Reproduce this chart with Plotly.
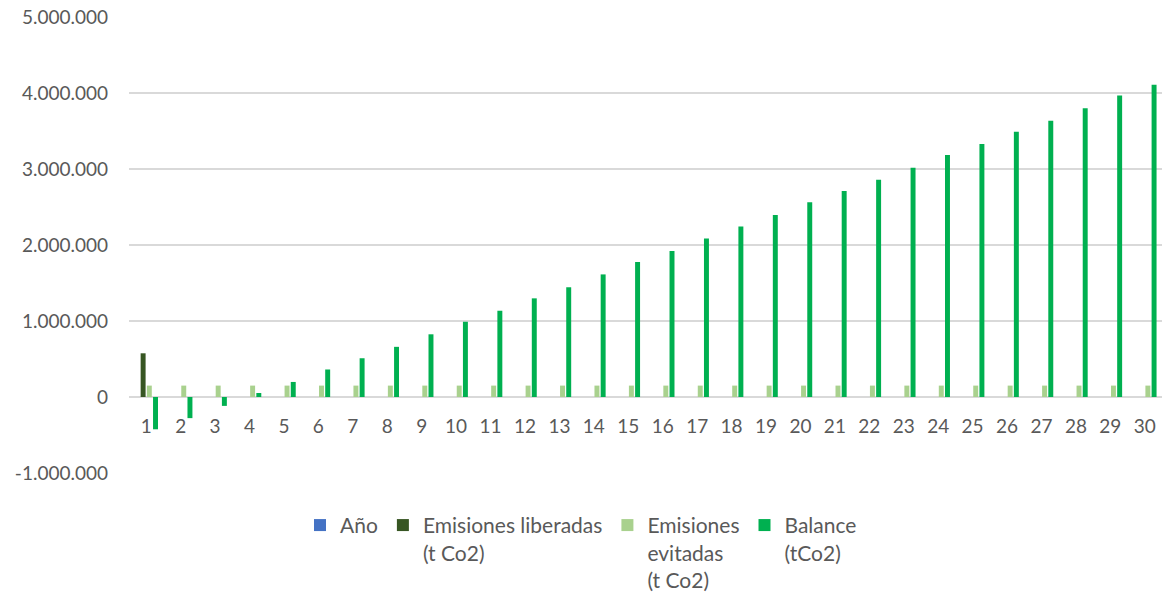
import plotly.graph_objects as go

# Years of the project horizon
anos = [1, 2, 3, 4, 5, 6, 7, 8, 9, 10, 11, 12, 13, 14, 15,
        16, 17, 18, 19, 20, 21, 22, 23, 24, 25, 26, 27, 28, 29, 30]
categorias = [str(a) for a in anos]

# Emissions released (t CO2) - only during the first year
emisiones_liberadas = [575000, 0, 0, 0, 0, 0, 0, 0, 0, 0, 0, 0, 0, 0, 0,
                       0, 0, 0, 0, 0, 0, 0, 0, 0, 0, 0, 0, 0, 0, 0]

# Emissions avoided per year (t CO2)
emisiones_evitadas = [150000, 150000, 150000, 150000, 150000, 150000, 150000, 150000,
                      150000, 150000, 150000, 150000, 150000, 150000, 150000, 150000,
                      150000, 150000, 150000, 150000, 150000, 150000, 150000, 150000,
                      150000, 150000, 150000, 150000, 150000, 150000]

# Cumulative balance (t CO2)
balance = [-425000, -278000, -117000, 53000, 198000, 362000, 510000, 660000,
           825000, 990000, 1135000, 1298000, 1444000, 1613000, 1775000, 1920000,
           2087000, 2245000, 2394000, 2561000, 2710000, 2859000, 3017000, 3184000,
           3329000, 3490000, 3636000, 3800000, 3966000, 4110000]

y_ticks = [-1000000, 0, 1000000, 2000000, 3000000, 4000000, 5000000]
y_labels = ["-1.000.000", "0", "1.000.000", "2.000.000", "3.000.000", "4.000.000", "5.000.000"]

FONT = "Lato"
GRIS = "#595959"

fig = go.Figure()
fig.add_trace(go.Bar(x=categorias, y=anos, name="Año", marker_color="#4472C4"))
fig.add_trace(go.Bar(x=categorias, y=emisiones_liberadas,
                     name="Emisiones liberadas<br>(t Co2)", marker_color="#375623"))
fig.add_trace(go.Bar(x=categorias, y=emisiones_evitadas,
                     name="Emisiones<br>evitadas<br>(t Co2)", marker_color="#A9D18E"))
fig.add_trace(go.Bar(x=categorias, y=balance,
                     name="Balance<br>(tCo2)", marker_color="#00B050"))

fig.update_traces(marker_line_width=0, hoverinfo="x+y+name")

fig.update_layout(
    width=1164, height=597,
    margin=dict(l=129, r=2, t=17, b=124, autoexpand=False),
    paper_bgcolor="white", plot_bgcolor="white",
    barmode="group", bargap=0.28, bargroupgap=0.2,
    font=dict(family=FONT, size=19, color=GRIS),
    legend=dict(
        orientation="h", x=(300 - 129) / 1033, xanchor="left",
        y=-0.07, yanchor="top", valign="top", itemwidth=30,
        font=dict(family=FONT, size=21, color=GRIS),
        traceorder="normal",
    ),
    xaxis=dict(
        type="category", anchor="free", position=1 / 6,
        showgrid=False, showline=False, ticks="", zeroline=False,
        ticklabelstandoff=16,
        tickfont=dict(family=FONT, size=19, color=GRIS),
    ),
    yaxis=dict(
        range=[-1000000, 5000000], tickvals=y_ticks, ticktext=y_labels,
        showgrid=True, gridcolor="#D9D9D9", gridwidth=1.5,
        zeroline=True, zerolinecolor="#D9D9D9", zerolinewidth=1.5,
        showline=False, ticks="", ticklabelstandoff=20,
        tickfont=dict(family=FONT, size=19, color=GRIS),
    ),
)

fig.write_html("out.html")
